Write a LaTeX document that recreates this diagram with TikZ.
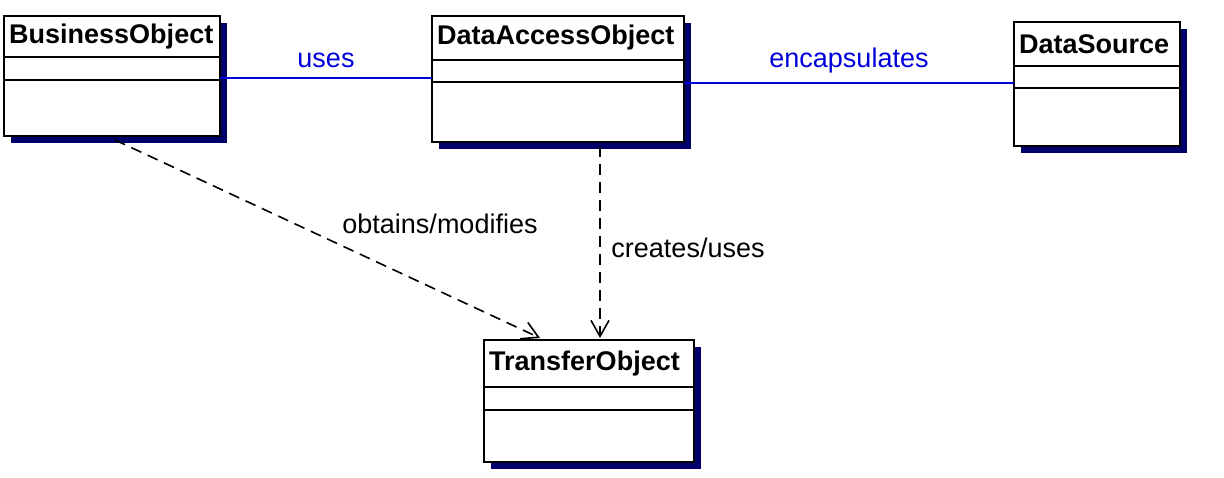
\documentclass[tikz,border=0pt]{standalone}
\usepackage{fontspec}
\setmainfont{Liberation Sans}
\usetikzlibrary{arrows.meta}
\begin{document}
\begin{tikzpicture}[x=1pt,y=-1pt,
  cls/.style={draw=black,line width=2.5pt,fill=white},
  shad/.style={fill=black!30!blue!60!black},
  title/.style={font=\fontsize{27}{30}\selectfont\bfseries,anchor=west,inner sep=0pt},
  lab/.style={font=\fontsize{27}{30}\selectfont,inner sep=0pt},
  assoc/.style={draw=blue!85!black,line width=2pt},
  dep/.style={draw=black,line width=1.6pt,dash pattern=on 11pt off 7pt,-{Straight Barb[open,length=16pt,width=18pt,line width=1.6pt]}}]
\useasboundingbox (0,0) rectangle (1224,477);
\newcommand{\umlcls}[8]{%
  \fill[shad] (#2+7,#3+7) rectangle (#4+7,#5+7);
  \draw[cls] (#2,#3) rectangle (#4,#5);
  \draw[line width=2pt] (#2,#6) -- (#4,#6) (#2,#7) -- (#4,#7);
  \node[title] at (#2+5,{(#3+#6)/2}) {#8};
  \coordinate (#1) at ({(#2+#4)/2},{(#3+#5)/2});}
\umlcls{bo}{4}{16}{220}{136}{57}{80}{BusinessObject}
\umlcls{dao}{432}{16}{684}{142}{60}{82}{DataAccessObject}
\umlcls{ds}{1014}{22}{1180}{146}{66}{88}{DataSource}
\umlcls{to}{484}{340}{694}{462}{387}{410}{TransferObject}
\coordinate (u1) at (220,78); \coordinate (u2) at (432,78);
\draw[assoc] (u1) -- node[lab,text=blue!85!black,above=9pt] {uses} (u2);
\coordinate (e1) at (684,83); \coordinate (e2) at (1014,83);
\draw[assoc] (e1) -- node[lab,text=blue!85!black,above=9pt] {encapsulates} (e2);
\coordinate (d1) at (115,140); \coordinate (d2) at (540,338);
\draw[dep] (d1) -- (d2);
\node[lab] (l1) at (440,224) {obtains/modifies};
\coordinate (c1) at (600,146); \coordinate (c2) at (600,338);
\draw[dep] (c1) -- (c2);
\node[lab] (l2) at (688,248) {creates/uses};
\end{tikzpicture}
\end{document}
